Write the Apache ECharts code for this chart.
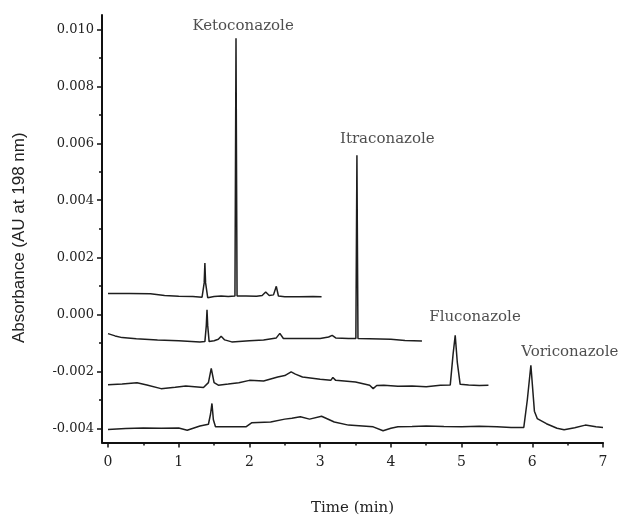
<!DOCTYPE html>
<html>
<head>
<meta charset="utf-8">
<script src="https://cdn.jsdelivr.net/npm/echarts@6/dist/echarts.min.js"></script>
<style>
html,body{margin:0;padding:0;background:#fff;}
#chart{width:623px;height:515px;}
</style>
</head>
<body>
<div id="chart"></div>
<script>
// ---- Data (time in min, absorbance in AU) ----
var ketoTime = [0, 0.3, 0.6, 0.8, 1.0, 1.2, 1.33, 1.36, 1.37, 1.38, 1.41, 1.5, 1.6, 1.7, 1.795, 1.81, 1.825, 1.84, 1.95, 2.1, 2.18, 2.23, 2.28, 2.34, 2.38, 2.41, 2.5, 2.7, 2.9, 3.02];
var ketoAbs  = [0.00073, 0.00073, 0.00072, 0.00066, 0.00063, 0.00062, 0.00060, 0.0011, 0.0018, 0.0011, 0.00058, 0.00062, 0.00064, 0.00062, 0.00064, 0.00968, 0.00064, 0.00064, 0.00064, 0.00063, 0.00066, 0.00078, 0.00066, 0.00068, 0.00098, 0.00064, 0.00061, 0.00061, 0.00062, 0.00061];

var itraTime = [0, 0.1, 0.2, 0.4, 0.7, 1.0, 1.3, 1.37, 1.39, 1.40, 1.41, 1.43, 1.5, 1.56, 1.6, 1.65, 1.75, 2.0, 2.2, 2.38, 2.43, 2.48, 2.7, 3.0, 3.12, 3.17, 3.22, 3.4, 3.505, 3.52, 3.535, 3.7, 4.0, 4.2, 4.44];
var itraAbs  = [-0.00068, -0.00076, -0.00082, -0.00086, -0.0009, -0.00093, -0.00097, -0.00096, -0.0004, 0.00016, -0.0004, -0.00096, -0.00093, -0.00088, -0.00077, -0.0009, -0.00097, -0.00093, -0.0009, -0.00083, -0.00067, -0.00085, -0.00085, -0.00085, -0.0008, -0.00074, -0.00083, -0.00085, -0.00085, 0.00558, -0.00085, -0.00086, -0.00088, -0.00092, -0.00094];

var flucoTime = [0, 0.2, 0.41, 0.55, 0.75, 0.95, 1.1, 1.35, 1.42, 1.46, 1.5, 1.56, 1.7, 1.85, 2.0, 2.2, 2.4, 2.5, 2.59, 2.65, 2.75, 3.0, 3.15, 3.18, 3.22, 3.5, 3.7, 3.75, 3.8, 3.9, 4.1, 4.3, 4.5, 4.7, 4.84, 4.88, 4.91, 4.94, 4.98, 5.1, 5.25, 5.38];
var flucoAbs  = [-0.00247, -0.00245, -0.0024, -0.00248, -0.00261, -0.00256, -0.00252, -0.00257, -0.0024, -0.0019, -0.0024, -0.00249, -0.00245, -0.0024, -0.00232, -0.00234, -0.0022, -0.00215, -0.00202, -0.0021, -0.0022, -0.00228, -0.00232, -0.00222, -0.00232, -0.00238, -0.00249, -0.00261, -0.0025, -0.00249, -0.00253, -0.00252, -0.00254, -0.00249, -0.00248, -0.0014, -0.00074, -0.0017, -0.00246, -0.00248, -0.0025, -0.00249];

var voriTime = [0, 0.25, 0.5, 0.75, 1.0, 1.12, 1.3, 1.42, 1.45, 1.47, 1.49, 1.52, 1.7, 1.95, 2.03, 2.3, 2.5, 2.6, 2.72, 2.85, 3.02, 3.2, 3.4, 3.6, 3.75, 3.89, 4.0, 4.1, 4.3, 4.5, 4.75, 5.0, 5.25, 5.5, 5.7, 5.88, 5.93, 5.98, 6.03, 6.07, 6.2, 6.35, 6.45, 6.6, 6.75, 6.9, 7.0];
var voriAbs  = [-0.00404, -0.00401, -0.00399, -0.004, -0.00399, -0.00407, -0.00392, -0.00386, -0.0035, -0.00313, -0.0037, -0.00395, -0.00395, -0.00395, -0.00381, -0.00378, -0.00368, -0.00365, -0.0036, -0.00368, -0.00358, -0.00378, -0.00389, -0.00392, -0.00395, -0.00409, -0.004, -0.00395, -0.00394, -0.00392, -0.00394, -0.00395, -0.00393, -0.00395, -0.00397, -0.00397, -0.003, -0.00179, -0.0034, -0.00366, -0.00384, -0.004, -0.00405, -0.00398, -0.00389, -0.00395, -0.00397];

var peakNames = ['Ketoconazole', 'Itraconazole', 'Fluconazole', 'Voriconazole'];
var peakLabelTime = [1.91, 3.95, 5.19, 6.53];
var peakLabelAbs  = [0.0101, 0.00614, -0.0001, -0.00133];

var xTicks = [0, 1, 2, 3, 4, 5, 6, 7];
var xMinorTicks = [0.5, 1.5, 2.5, 3.5, 4.5, 5.5, 6.5];
var yTicks = [-0.004, -0.002, 0.000, 0.002, 0.004, 0.006, 0.008, 0.010];
var yMinorTicks = [-0.003, -0.001, 0.001, 0.003, 0.005, 0.007, 0.009];

function zip(a, b) { return a.map(function (v, i) { return [v, b[i]]; }); }

var chart = echarts.init(document.getElementById('chart'), null, {renderer: 'canvas'});
var serif = 'DejaVu Serif';
var lineColor = '#1e1e1e';
var X_MIN = -0.085, X_MAX = 7, Y_MIN = -0.0045, Y_MAX = 0.0105;

function traceSeries(t, v) {
  return {
    type: 'line', data: zip(t, v), showSymbol: false, symbol: 'none',
    lineStyle: {color: lineColor, width: 1.5}, xAxisIndex: 0, yAxisIndex: 0,
    animation: false, silent: true
  };
}

var option = {
  backgroundColor: '#fff',
  animation: false,
  grid: {left: 102, right: 20, top: 15, bottom: 72.5, containLabel: false, outerBoundsMode: 'none'},
  xAxis: [{
    type: 'value', min: X_MIN, max: X_MAX,
    name: 'Time (min)', nameLocation: 'middle', nameGap: 58,
    nameTextStyle: {fontFamily: serif, fontSize: 15, color: '#222'},
    axisLine: {show: true, onZero: false, lineStyle: {color: '#111', width: 2}},
    axisTick: {show: true, customValues: xTicks, length: 5, inside: false, lineStyle: {color: '#111', width: 1.5}},
    axisLabel: {show: true, customValues: xTicks, fontFamily: serif, fontSize: 14, color: '#222', margin: 13,
      formatter: function (v) { return String(Math.round(v)); }},
    splitLine: {show: false}
  }, {
    type: 'value', min: X_MIN, max: X_MAX, position: 'bottom',
    axisLine: {show: false, onZero: false},
    axisTick: {show: true, customValues: xMinorTicks, length: 3, lineStyle: {color: '#111', width: 1.5}},
    axisLabel: {show: false},
    splitLine: {show: false}
  }],
  yAxis: [{
    type: 'value', min: Y_MIN, max: Y_MAX,
    name: 'Absorbance (AU at 198 nm)', nameLocation: 'middle', nameGap: 74, nameRotate: 90,
    nameTextStyle: {fontFamily: 'Liberation Sans', fontSize: 17, color: '#222', padding: [0, 18, 0, 0]},
    axisLine: {show: true, onZero: false, lineStyle: {color: '#111', width: 2}},
    axisTick: {show: true, customValues: yTicks, length: 5, lineStyle: {color: '#111', width: 1.5}},
    axisLabel: {show: true, customValues: yTicks, fontFamily: serif, fontSize: 13, color: '#222', margin: 8,
      formatter: function (v) { return v.toFixed(3); }},
    splitLine: {show: false}
  }, {
    type: 'value', min: Y_MIN, max: Y_MAX, position: 'left',
    axisLine: {show: false, onZero: false},
    axisTick: {show: true, customValues: yMinorTicks, length: 3, lineStyle: {color: '#111', width: 1.5}},
    axisLabel: {show: false},
    splitLine: {show: false}
  }],
  series: [
    traceSeries(ketoTime, ketoAbs),
    traceSeries(itraTime, itraAbs),
    traceSeries(flucoTime, flucoAbs),
    traceSeries(voriTime, voriAbs),
    {
      type: 'scatter', xAxisIndex: 0, yAxisIndex: 0, symbolSize: 0, silent: true,
      data: peakNames.map(function (n, i) { return {name: n, value: [peakLabelTime[i], peakLabelAbs[i]]}; }),
      label: {show: true, position: 'inside', formatter: '{b}', fontFamily: serif, fontSize: 15, color: '#222'}
    }
  ]
};
chart.setOption(option);
</script>
</body>
</html>
